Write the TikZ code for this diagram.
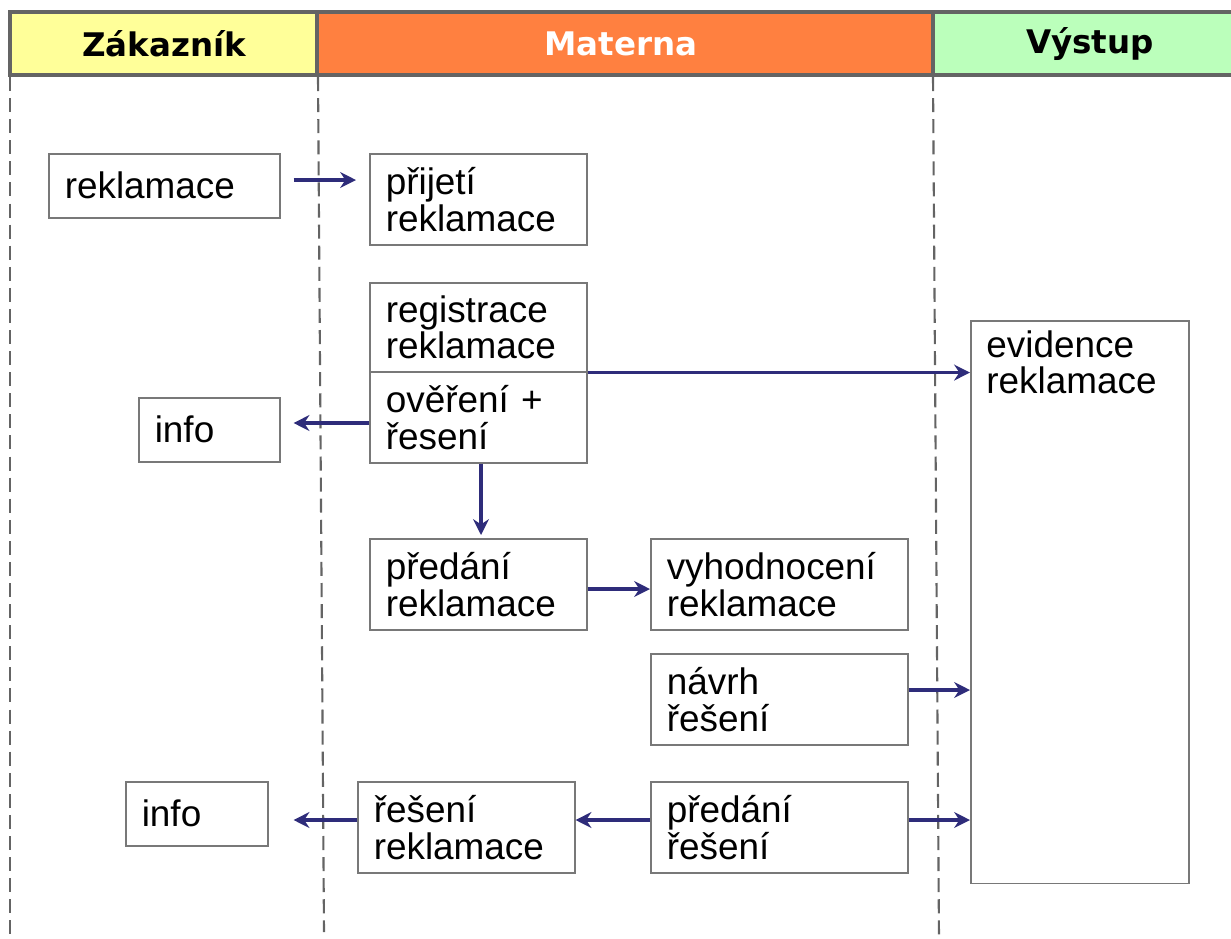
\documentclass[tikz,border=0pt]{standalone}
\usepackage{fontspec}
\setmainfont{Liberation Sans}
\newfontfamily\headfont{DejaVu Sans}
\usetikzlibrary{arrows.meta}
\definecolor{navy}{RGB}{46,44,122}
\definecolor{frame}{RGB}{100,100,100}
\definecolor{boxline}{RGB}{120,120,120}
\definecolor{zakcol}{RGB}{255,255,153}
\definecolor{matcol}{RGB}{255,128,64}
\definecolor{vyscol}{RGB}{187,255,187}
\tikzset{
  box/.style 2 args={draw=boxline, line width=0.9pt, fill=white, anchor=north west,
    inner xsep=0.32cm, inner ysep=0pt, align=left, text width=#1, minimum height=#2,
    font=\fontsize{21}{21}\selectfont},
  head/.style={font=\headfont\bfseries\fontsize{18.5}{18.5}\selectfont},
  lane/.style={frame, dashed, dash pattern=on 8pt off 4pt, line width=1.2pt},
  flow/.style={navy, line width=2.1pt, -{Stealth[length=9pt,width=9pt]}}
}
\begin{document}
\begin{tikzpicture}[x=0.02cm, y=-0.02cm]
  \useasboundingbox (0,0) rectangle (1231,938);

  % Header
  \fill[zakcol] (10,12) rectangle (317,75);
  \fill[matcol] (317,12) rectangle (933,75);
  \fill[vyscol] (933,12) rectangle (1231,75);
  \draw[frame, line width=2.3pt] (1231,12) -- (10,12) -- (10,75) -- (1231,75);
  \draw[frame, line width=2.3pt] (317,12) -- (317,75);
  \draw[frame, line width=2.3pt] (933,12) -- (933,75);
  \node[head] (hz) at (164,44) {Zákazník};
  \node[head, white] (hm) at (621,44) {Materna};
  \node[head] (hv) at (1090,44) {Výstup};

  % Lanes
  \draw[lane] (10,77) -- (10,938);
  \draw[lane] (318,77) -- (324,932);
  \draw[lane] (933,77) -- (939,938);

  % Boxes
  \node[box={3.98cm}{1.28cm}] (rekl) at (48,153) {reklamace};
  \node[box={3.70cm}{1.82cm}] (prij) at (369,153) {přijetí\\reklamace};
  \node[box={3.70cm}{1.78cm}] (regi) at (369,282) {registrace\\reklamace};
  \node[box={3.70cm}{1.82cm}] (over) at (369,371) {ověření +\\řesení};
  \node[box={2.18cm}{1.28cm}] (infoa) at (138,397) {info};
  \node[box={3.72cm}{11.26cm}] (evid) at (970,320) {};
  \node[anchor=north west, align=left, inner sep=0pt, font=\fontsize{21}{21}\selectfont]
    (evidtxt) at (986,330) {evidence\\reklamace};
  \node[box={3.70cm}{1.82cm}] (pred) at (369,538) {předání\\reklamace};
  \node[box={4.50cm}{1.82cm}] (vyho) at (650,538) {vyhodnocení\\reklamace};
  \node[box={4.50cm}{1.82cm}] (navr) at (650,653) {návrh\\řešení};
  \node[box={2.20cm}{1.28cm}] (infob) at (125,781) {info};
  \node[box={3.70cm}{1.82cm}] (resr) at (357,781) {řešení\\reklamace};
  \node[box={4.50cm}{1.82cm}] (prer) at (650,781) {předání\\řešení};

  % Arrows
  \draw[flow, shorten <=0.26cm, shorten >=0.26cm] (rekl.east |- 0,180) -- (prij.west |- 0,180);
  \draw[flow] (regi.south east) -- (regi.south east -| evid.west);
  \draw[flow, shorten >=0.26cm] (over.west |- 0,423) -- (infoa.east |- 0,423);
  \draw[flow, shorten >=0.06cm] (over.south -| 481,0) -- (pred.north -| 481,0);
  \draw[flow] (pred.east |- 0,589) -- (vyho.west |- 0,589);
  \draw[flow] (navr.east |- 0,690) -- (evid.west |- 0,690);
  \draw[flow] (prer.east |- 0,820) -- (evid.west |- 0,820);
  \draw[flow] (prer.west |- 0,820) -- (resr.east |- 0,820);
  \draw[flow, shorten >=0.5cm] (resr.west |- 0,820) -- (infob.east |- 0,820);
\end{tikzpicture}
\end{document}
